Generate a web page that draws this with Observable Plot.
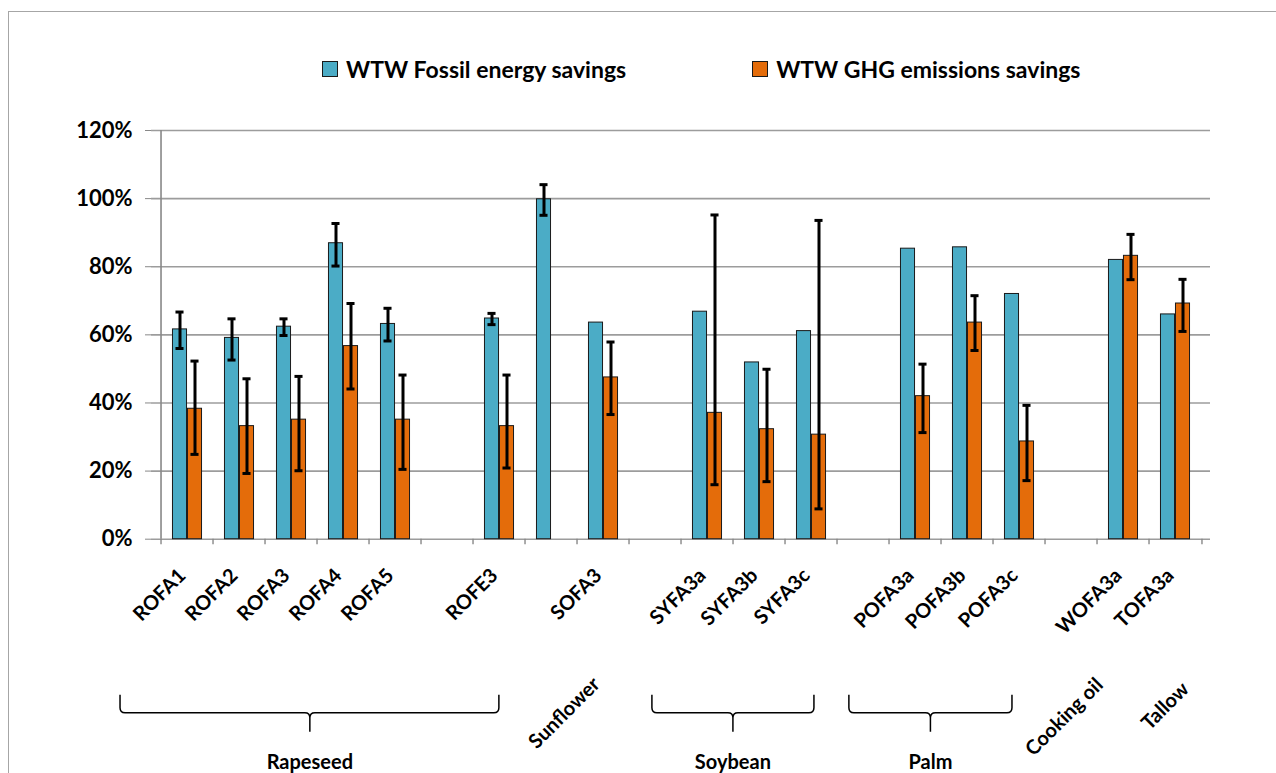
<!DOCTYPE html>
<html>
<head>
<meta charset="utf-8">
<script src="https://cdn.jsdelivr.net/npm/d3@7"></script>
<script src="https://cdn.jsdelivr.net/npm/@observablehq/plot@0.6"></script>
<style>
  body { margin: 0; background: #fff; font-family: Lato, "Open Sans", sans-serif; }
  #wrap { position: relative; width: 1276px; height: 773px; overflow: hidden; }
  #frame { position: absolute; left: 8px; top: 11px; width: 1400px; height: 900px; border: 1.5px solid #a6a6a6; }
  #chart { position: absolute; left: 0; top: 0; }
  #legend { position: absolute; left: 322px; top: 55px; display: flex; align-items: center;
            font-family: Lato, sans-serif; font-weight: bold; font-size: 23px; color: #000; }
  .item { display: flex; align-items: center; }
  .sw { width: 14px; height: 14px; border: 1.2px solid #1a1a1a; margin-right: 8px; }
</style>
</head>
<body>
<div id="wrap">
  <div id="frame"></div>
  <div id="chart"></div>
  <div id="legend"></div>
</div>
<script>
// ---- data (values in %) ----
const categories = ["ROFA1","ROFA2","ROFA3","ROFA4","ROFA5","","ROFE3","","SOFA3","",
                    "SYFA3a","SYFA3b","SYFA3c","","POFA3a","POFA3b","POFA3c","","WOFA3a","TOFA3a"];
const fossil   = [61.6, 59.1, 62.4, 86.9, 63.2, null, 64.8, 99.8, 63.6, null, 66.8, 51.9, 61.1, null, 85.3, 85.7, 72.0, null, 82.0, 66.0];
const fossilLo = [56.0, 52.6, 59.8, 80.2, 58.2, null, 63.0, 95.1, null, null, null, null, null, null, null, null, null, null, null, null];
const fossilHi = [66.7, 64.7, 64.7, 92.7, 67.8, null, 66.3, 104.1, null, null, null, null, null, null, null, null, null, null, null, null];
const ghg      = [38.3, 33.2, 35.1, 56.7, 35.1, null, 33.2, null, 47.5, null, 37.1, 32.3, 30.7, null, 42.0, 63.6, 28.7, null, 83.2, 69.2];
const ghgLo    = [24.9, 19.3, 20.1, 44.1, 20.5, null, 20.9, null, 36.6, null, 16.0, 16.9, 8.9, null, 31.3, 55.4, 17.2, null, 76.2, 61.0];
const ghgHi    = [52.3, 47.1, 47.8, 69.2, 48.2, null, 48.2, null, 57.9, null, 95.2, 49.9, 93.6, null, 51.4, 71.5, 39.3, null, 89.5, 76.3];
const yTicks = [0, 20, 40, 60, 80, 100, 120];
const seriesNames = ["WTW Fossil energy savings", "WTW GHG emissions savings"];
const seriesColors = ["#4BACC6", "#E46C0A"];
// group annotations (positions in category-slot units)
const groupNames      = ["Rapeseed", "Sunflower", "Soybean", "Palm", "Cooking oil", "Tallow"];
const groupBraceStart = [-0.585, null, 9.46, 13.18, null, null];
const groupBraceEnd   = [6.57, null, 12.52, 16.26, null, null];
const groupLabelAt    = [3.0, 7.8, 10.99, 14.72, 17.24, 19.15];

// ---- build tables ----
const idx = d3.range(categories.length);
const fossilData = idx.filter(i => fossil[i] != null).map(i => ({i, v: fossil[i]}));
const ghgData = idx.filter(i => ghg[i] != null).map(i => ({i, v: ghg[i]}));
const fossilErr = idx.filter(i => fossilLo[i] != null).map(i => ({i, lo: fossilLo[i], hi: fossilHi[i]}));
const ghgErr = idx.filter(i => ghgLo[i] != null).map(i => ({i, lo: ghgLo[i], hi: ghgHi[i]}));
const labels = idx.filter(i => categories[i] !== "").map(i => ({i, t: categories[i]}));

const W = 1276, H = 773, ML = 151, MR = 66, MT = 130, MB = H - 538.7;
const bw = (W - ML - MR) / categories.length;
const barW = 15, capW = 9;
const gridColor = "#9c9c9c";

const plot = Plot.plot({
  width: W, height: H,
  marginLeft: ML, marginRight: MR, marginTop: MT, marginBottom: MB,
  style: { fontFamily: "Lato, sans-serif", fontSize: "20px", fontWeight: "bold", color: "#000", background: "transparent", overflow: "visible" },
  x: { type: "band", domain: idx, padding: 0, axis: null },
  y: { domain: [0, 120], axis: null },
  marks: [
    Plot.ruleY(yTicks, { stroke: gridColor, strokeWidth: 1.6 }),
    Plot.axisY({ ticks: yTicks, tickFormat: d => d + "%", tickSize: 6, tickPadding: 13, stroke: "#888", label: null, fontSize: 22, fontWeight: "bold" }),
    Plot.ruleX([0], { y1: 0, y2: 120, dx: -bw / 2, stroke: "#888", strokeWidth: 1.6 }),
    Plot.ruleX(idx, { x: d => d, y1: 0, y2: -1.6, dx: -bw / 2, stroke: "#888", strokeWidth: 1.4 }),
    Plot.ruleX([idx[idx.length - 1]], { y1: 0, y2: -1.6, dx: bw / 2, stroke: "#888", strokeWidth: 1.4 }),
    Plot.barY(fossilData, { x: "i", y: "v", fill: seriesColors[0], stroke: "#1a1a1a", strokeWidth: 1,
      insetLeft: bw / 2 - barW, insetRight: bw / 2 }),
    Plot.barY(ghgData, { x: "i", y: "v", fill: seriesColors[1], stroke: "#1a1a1a", strokeWidth: 1,
      insetLeft: bw / 2, insetRight: bw / 2 - barW }),
    Plot.ruleX(fossilErr, { x: "i", y1: "lo", y2: "hi", dx: -barW / 2, stroke: "#000", strokeWidth: 3 }),
    Plot.tickY(fossilErr, { x: "i", y: "lo", dx: -barW / 2, insetLeft: (bw - capW) / 2, insetRight: (bw - capW) / 2, stroke: "#000", strokeWidth: 3 }),
    Plot.tickY(fossilErr, { x: "i", y: "hi", dx: -barW / 2, insetLeft: (bw - capW) / 2, insetRight: (bw - capW) / 2, stroke: "#000", strokeWidth: 3 }),
    Plot.ruleX(ghgErr, { x: "i", y1: "lo", y2: "hi", dx: barW / 2, stroke: "#000", strokeWidth: 3 }),
    Plot.tickY(ghgErr, { x: "i", y: "lo", dx: barW / 2, insetLeft: (bw - capW) / 2, insetRight: (bw - capW) / 2, stroke: "#000", strokeWidth: 3 }),
    Plot.tickY(ghgErr, { x: "i", y: "hi", dx: barW / 2, insetLeft: (bw - capW) / 2, insetRight: (bw - capW) / 2, stroke: "#000", strokeWidth: 3 }),
    Plot.text(labels, { x: "i", text: "t", frameAnchor: "bottom", dx: -5, dy: 33, rotate: -45,
      textAnchor: "end", lineAnchor: "middle", fontSize: 20, fontWeight: "bold", fill: "#000" })
  ]
});
document.getElementById("chart").appendChild(plot);

// ---- group braces and labels, positioned with the plot's x scale ----
const xs = plot.scale("x");
const step = (xs.range[1] - xs.range[0]) / xs.domain.length;
const px = u => xs.range[0] + u * step;
const y0 = plot.scale("y").apply(0);
const svg = d3.select(plot);
const g = svg.append("g");
groupNames.forEach((name, k) => {
  const c = px(groupLabelAt[k]);
  if (groupBraceStart[k] != null) {
    const a = px(groupBraceStart[k]), b = px(groupBraceEnd[k]);
    const yT = y0 + 156, yM = y0 + 174, yB = y0 + 193, r = 5;
    const d = `M${a},${yT} L${a},${yM - r} Q${a},${yM} ${a + r},${yM} L${c - r},${yM} Q${c},${yM} ${c},${yM + r} L${c},${yB}` +
              ` M${c},${yM + r} Q${c},${yM} ${c + r},${yM} L${b - r},${yM} Q${b},${yM} ${b},${yM - r} L${b},${yT}`;
    g.append("path").attr("d", d).attr("fill", "none").attr("stroke", "#000").attr("stroke-width", 1.5);
    g.append("text").attr("x", c).attr("y", y0 + 223).attr("dy", "0.35em")
      .attr("text-anchor", "middle").attr("font-size", 20).attr("font-weight", "bold").text(name);
  } else {
    const yOff = { "Sunflower": 174, "Cooking oil": 178, "Tallow": 167 }[name];
    g.append("text").attr("transform", `translate(${c},${y0 + yOff}) rotate(-45)`).attr("dy", "0.35em")
      .attr("text-anchor", "middle").attr("font-size", 20).attr("font-weight", "bold").text(name);
  }
});

// ---- legend ----
const leg = d3.select("#legend");
seriesNames.forEach((n, k) => {
  const it = leg.append("div").attr("class", "item").style("margin-right", k === 0 ? "126px" : "0");
  it.append("div").attr("class", "sw").style("background", seriesColors[k]);
  it.append("span").text(n);
});
</script>
</body>
</html>
